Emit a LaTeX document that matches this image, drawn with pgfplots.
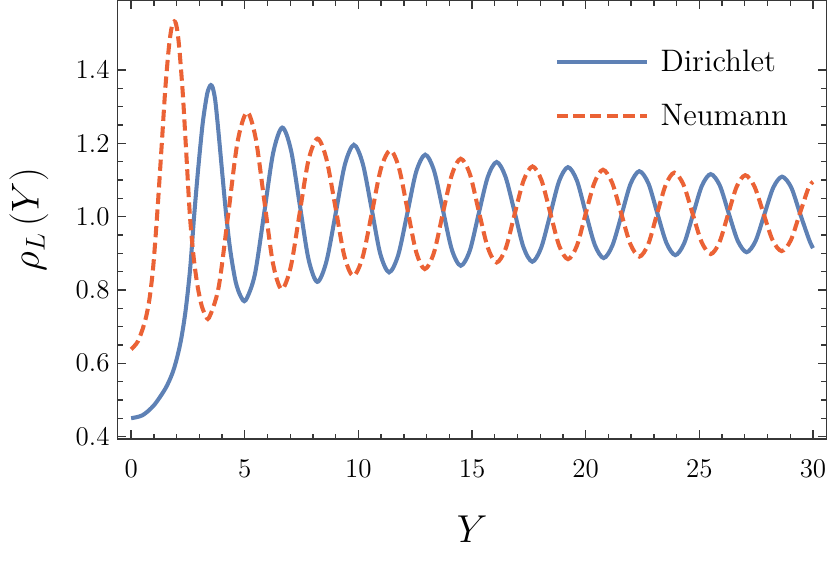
\documentclass[border=0pt]{standalone}
\usepackage{pgfplots}
\pgfplotsset{compat=1.18}
\definecolor{dblue}{RGB}{94,129,181}
\definecolor{norange}{RGB}{235,98,53}
\definecolor{framegray}{RGB}{55,55,55}
\begin{document}
\begin{tikzpicture}
\begin{axis}[
  name=ax,
  scale only axis,
  width=315.1pt, height=194.9pt,
  xmin=-0.6, xmax=30.6, ymin=0.393, ymax=1.59,
  xtick={0,5,10,15,20,25,30},
  minor x tick num=4,
  ytick={0.4,0.6,0.8,1.0,1.2,1.4},
  minor y tick num=3,
  tick align=inside,
  major tick length=3.9pt, minor tick length=2.4pt,
  axis line style={framegray, line width=0.6pt},
  every tick/.style={framegray, line width=0.6pt},
  tick label style={font=\fontsize{12}{14}\selectfont},
  xticklabel style={yshift=-6pt},
  yticklabel style={/pgf/number format/.cd, fixed, fixed zerofill, precision=1},
  xlabel={$Y$}, ylabel={$\rho_L\,(Y)$},
  label style={font=\fontsize{18.5}{20}\selectfont},
  xlabel style={at={(axis description cs:0.5,-0.2056)}, anchor=center},
  ylabel style={at={(axis description cs:-0.1248,0.5)}, anchor=center, rotate=0},
  legend cell align=left,
  legend image code/.code={\draw[#1] (0pt,0pt) -- (40pt,0pt);},
  legend style={draw=none, fill=none, inner sep=0pt, row sep=13.1pt,
    font=\fontsize{13.8}{15}\selectfont,
    nodes={inner xsep=5.2pt, inner ysep=0pt},
    at={(0.616,0.889)}, anchor=north west},
]
\addplot[dblue, line width=1.8pt, smooth] coordinates {
(0,0.450) (0.5,0.458) (1.0,0.485) (1.5,0.530) (1.8,0.570) (2.0,0.610)
(2.2,0.665) (2.4,0.745) (2.6,0.860) (2.77,1.000) (2.95,1.130) (3.15,1.255)
(3.33,1.330) (3.43,1.352) (3.51,1.359) (3.59,1.352) (3.70,1.318) (3.83,1.240) (4.0,1.125) (4.19,1.000)
(4.37,0.905) (4.6,0.822) (4.82,0.783) (5.04,0.772) (5.44,0.841) (5.85,1.0075)
(6.25,1.174) (6.65,1.243) (7.035,1.181) (7.42,1.0325) (7.805,0.884) (8.19,0.822)
(8.59,0.877) (9.0,1.009) (9.40,1.141) (9.80,1.196) (10.19,1.145) (10.58,1.022)
(10.96,0.899) (11.35,0.848) (11.75,0.895) (12.15,1.0085) (12.54,1.122) (12.94,1.169)
(13.33,1.125) (13.72,1.0175) (14.11,0.910) (14.50,0.866) (14.90,0.907) (15.29,1.0075)
(15.69,1.108) (16.08,1.149) (16.47,1.109) (16.87,1.013) (17.26,0.917) (17.65,0.877)
(18.04,0.915) (18.44,1.006) (18.83,1.097) (19.22,1.135) (19.61,1.099) (20.0,1.011)
(20.40,0.923) (20.79,0.887) (21.18,0.922) (21.58,1.0055) (21.97,1.089) (22.36,1.124)
(22.76,1.0905) (23.15,1.0095) (23.55,0.9285) (23.94,0.895) (24.33,0.927) (24.72,1.0055)
(25.11,1.084) (25.50,1.116) (25.90,1.085) (26.29,1.0095) (26.69,0.934) (27.08,0.903)
(27.47,0.933) (27.86,1.006) (28.25,1.079) (28.64,1.109) (29.04,1.080) (29.43,1.0085)
(29.83,0.937) (30.0,0.914)
};
\addlegendentry{Dirichlet}
\addplot[norange, line width=1.8pt, smooth, dash pattern=on 5pt off 2.4pt] coordinates {
(0,0.638) (0.3,0.660) (0.6,0.712) (0.8,0.772) (0.97,0.862) (1.14,1.000)
(1.33,1.180) (1.50,1.345) (1.65,1.455) (1.75,1.505) (1.83,1.527) (1.90,1.533)
(1.97,1.527) (2.05,1.500) (2.14,1.445) (2.28,1.330) (2.43,1.170) (2.59,1.000)
(2.75,0.890) (2.92,0.812) (3.1,0.758) (3.26,0.733) (3.43,0.7245) (3.85,0.807)
(4.27,1.005) (4.68,1.203) (5.10,1.285) (5.48,1.214) (5.86,1.0435) (6.24,0.873)
(6.62,0.802) (7.02,0.862) (7.41,1.0075) (7.80,1.153) (8.20,1.213) (8.59,1.158)
(8.99,1.0255) (9.38,0.893) (9.77,0.838) (10.18,0.888) (10.59,1.0095) (10.99,1.131)
(11.40,1.181) (11.78,1.134) (12.16,1.019) (12.54,0.904) (12.92,0.857) (13.32,0.901)
(13.71,1.0075) (14.11,1.114) (14.50,1.158) (14.90,1.117) (15.29,1.0165) (15.69,0.916)
(16.08,0.875) (16.48,0.913) (16.87,1.006) (17.27,1.099) (17.66,1.137) (18.05,1.100)
(18.44,1.0105) (18.83,0.921) (19.22,0.884) (19.61,0.920) (19.99,1.006) (20.38,1.092)
(20.76,1.128) (21.16,1.093) (21.56,1.0095) (21.96,0.926) (22.36,0.891) (22.75,0.9245)
(23.13,1.0055) (23.52,1.0865) (23.90,1.120) (24.30,1.0875) (24.70,1.009) (25.10,0.9305)
(25.50,0.898) (25.88,0.9295) (26.26,1.0055) (26.64,1.0815) (27.02,1.113) (27.42,1.083)
(27.82,1.0095) (28.22,0.936) (28.62,0.906) (29.02,0.935) (29.41,1.0065) (29.80,1.078)
(30.0,1.095)
};
\addlegendentry{Neumann}
\end{axis}
\pgfresetboundingbox
\path[use as bounding box] ([xshift=-52.2pt,yshift=-56pt]ax.south west) rectangle ([xshift=1.5pt,yshift=0.2pt]ax.north east);
\end{tikzpicture}
\end{document}
